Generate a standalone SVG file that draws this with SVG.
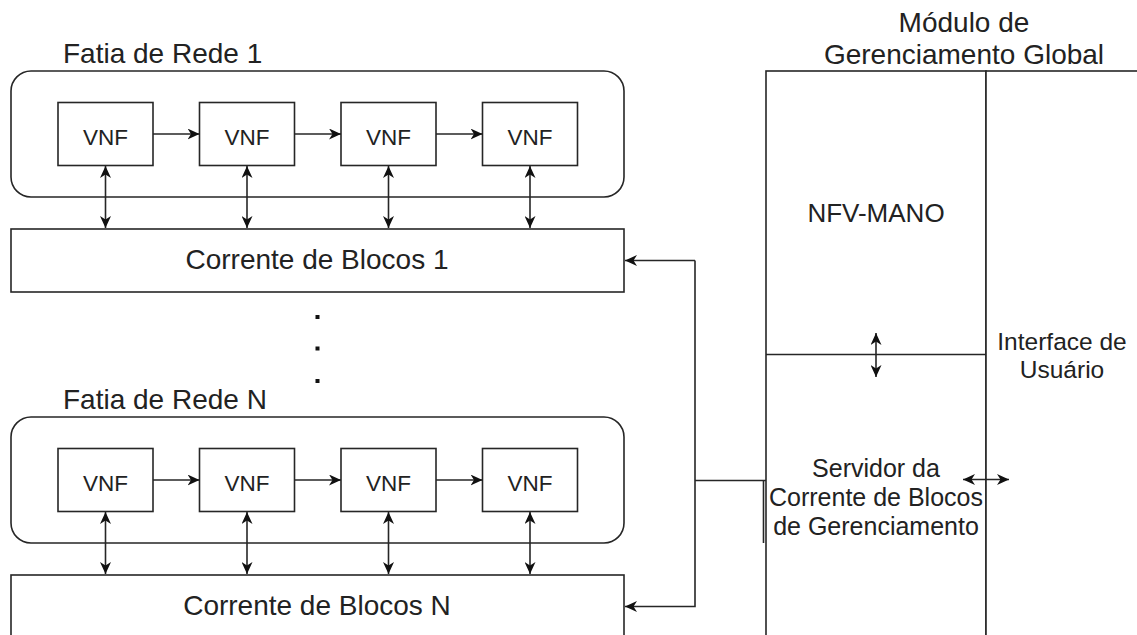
<svg xmlns="http://www.w3.org/2000/svg" width="1137" height="635" viewBox="0 0 1137 635">
<style>
.box{fill:#fff;stroke:#262626;stroke-width:1.6}
.ln{fill:none;stroke:#262626;stroke-width:1.6}
.t{font-family:"Liberation Sans",Arial,Helvetica,sans-serif;fill:#222;text-anchor:middle}
.vnf{font-size:22.5px}
.big{font-size:28px}
.mid{font-size:25px}
.st{text-anchor:start}
</style>
<defs>
<marker id="ah" markerUnits="userSpaceOnUse" markerWidth="13" markerHeight="11" refX="12" refY="5.5" orient="auto-start-reverse" viewBox="0 0 13 11">
<path d="M0,0 L12,5.5 L0,11 L3.5,5.5 Z" fill="#111"/>
</marker>
</defs>
<rect width="1137" height="635" fill="#fff"/>

<g id="slice1">
<text class="t big st" x="63" y="63">Fatia de Rede 1</text>
<rect class="box" x="11" y="71" width="613" height="126" rx="20"/>
</g>
<g id="vnf1a"><rect class="box" x="58" y="102.5" width="95" height="63"/><text class="t vnf" x="105.5" y="145">VNF</text></g>
<g id="vnf1b"><rect class="box" x="199.5" y="102.5" width="95" height="63"/><text class="t vnf" x="247" y="145">VNF</text></g>
<g id="vnf1c"><rect class="box" x="341" y="102.5" width="95" height="63"/><text class="t vnf" x="388.5" y="145">VNF</text></g>
<g id="vnf1d"><rect class="box" x="482.5" y="102.5" width="95" height="63"/><text class="t vnf" x="530" y="145">VNF</text></g>
<g id="chain1"><rect class="box" x="11" y="229" width="613" height="63"/><text class="t big" x="317" y="269">Corrente de Blocos 1</text></g>

<g id="dots">
<rect x="315.5" y="315" width="4" height="4" fill="#111"/>
<rect x="315.5" y="346.5" width="4" height="4" fill="#111"/>
<rect x="315.5" y="379" width="4" height="4" fill="#111"/>
</g>

<g id="sliceN">
<text class="t big st" x="63" y="409">Fatia de Rede N</text>
<rect class="box" x="11" y="417" width="613" height="126" rx="20"/>
</g>
<g id="vnfNa"><rect class="box" x="58" y="448.5" width="95" height="63"/><text class="t vnf" x="105.5" y="491">VNF</text></g>
<g id="vnfNb"><rect class="box" x="199.5" y="448.5" width="95" height="63"/><text class="t vnf" x="247" y="491">VNF</text></g>
<g id="vnfNc"><rect class="box" x="341" y="448.5" width="95" height="63"/><text class="t vnf" x="388.5" y="491">VNF</text></g>
<g id="vnfNd"><rect class="box" x="482.5" y="448.5" width="95" height="63"/><text class="t vnf" x="530" y="491">VNF</text></g>
<g id="chainN"><rect class="box" x="11" y="575" width="613" height="80"/><text class="t big" x="317" y="615">Corrente de Blocos N</text></g>

<g id="module">
<text class="t big" x="964" y="32">Módulo de</text>
<text class="t big" x="964" y="63.5">Gerenciamento Global</text>
<rect class="box" x="766" y="71" width="220" height="600"/>
<rect class="box" x="986" y="71" width="200" height="600"/>
<line class="ln" x1="766" y1="354.5" x2="986" y2="354.5"/>
</g>
<g id="nfvmano"><text class="t" style="font-size:26px" x="876" y="222">NFV-MANO</text></g>
<g id="server">
<text class="t mid" x="876" y="477">Servidor da</text>
<text class="t mid" x="876" y="506">Corrente de Blocos</text>
<text class="t mid" x="876" y="535">de Gerenciamento</text>
</g>
<g id="ui">
<text class="t" style="font-size:24.5px" x="1062" y="350">Interface de</text>
<text class="t" style="font-size:24.5px" x="1062" y="378">Usuário</text>
</g>

<g id="connectors">
<line class="ln" x1="153" y1="134" x2="199.5" y2="134" marker-end="url(#ah)"/>
<line class="ln" x1="294.5" y1="134" x2="341" y2="134" marker-end="url(#ah)"/>
<line class="ln" x1="436" y1="134" x2="482.5" y2="134" marker-end="url(#ah)"/>
<line class="ln" x1="153" y1="480" x2="199.5" y2="480" marker-end="url(#ah)"/>
<line class="ln" x1="294.5" y1="480" x2="341" y2="480" marker-end="url(#ah)"/>
<line class="ln" x1="436" y1="480" x2="482.5" y2="480" marker-end="url(#ah)"/>

<line class="ln" x1="105.5" y1="166" x2="105.5" y2="228" marker-start="url(#ah)" marker-end="url(#ah)"/>
<line class="ln" x1="247" y1="166" x2="247" y2="228" marker-start="url(#ah)" marker-end="url(#ah)"/>
<line class="ln" x1="388.5" y1="166" x2="388.5" y2="228" marker-start="url(#ah)" marker-end="url(#ah)"/>
<line class="ln" x1="530" y1="166" x2="530" y2="228" marker-start="url(#ah)" marker-end="url(#ah)"/>
<line class="ln" x1="105.5" y1="512" x2="105.5" y2="574" marker-start="url(#ah)" marker-end="url(#ah)"/>
<line class="ln" x1="247" y1="512" x2="247" y2="574" marker-start="url(#ah)" marker-end="url(#ah)"/>
<line class="ln" x1="388.5" y1="512" x2="388.5" y2="574" marker-start="url(#ah)" marker-end="url(#ah)"/>
<line class="ln" x1="530" y1="512" x2="530" y2="574" marker-start="url(#ah)" marker-end="url(#ah)"/>

<polyline class="ln" points="695,260.5 695,606.5 625,606.5" marker-end="url(#ah)"/>
<line class="ln" x1="695" y1="260.5" x2="625" y2="260.5" marker-end="url(#ah)"/>
<line class="ln" x1="695" y1="480.5" x2="766" y2="480.5"/>
<line class="ln" x1="763.5" y1="480.5" x2="763.5" y2="543"/>

<line class="ln" x1="876" y1="333" x2="876" y2="377" marker-start="url(#ah)" marker-end="url(#ah)"/>
<line class="ln" x1="963" y1="479.5" x2="1009" y2="479.5" marker-start="url(#ah)" marker-end="url(#ah)"/>
</g>
</svg>
